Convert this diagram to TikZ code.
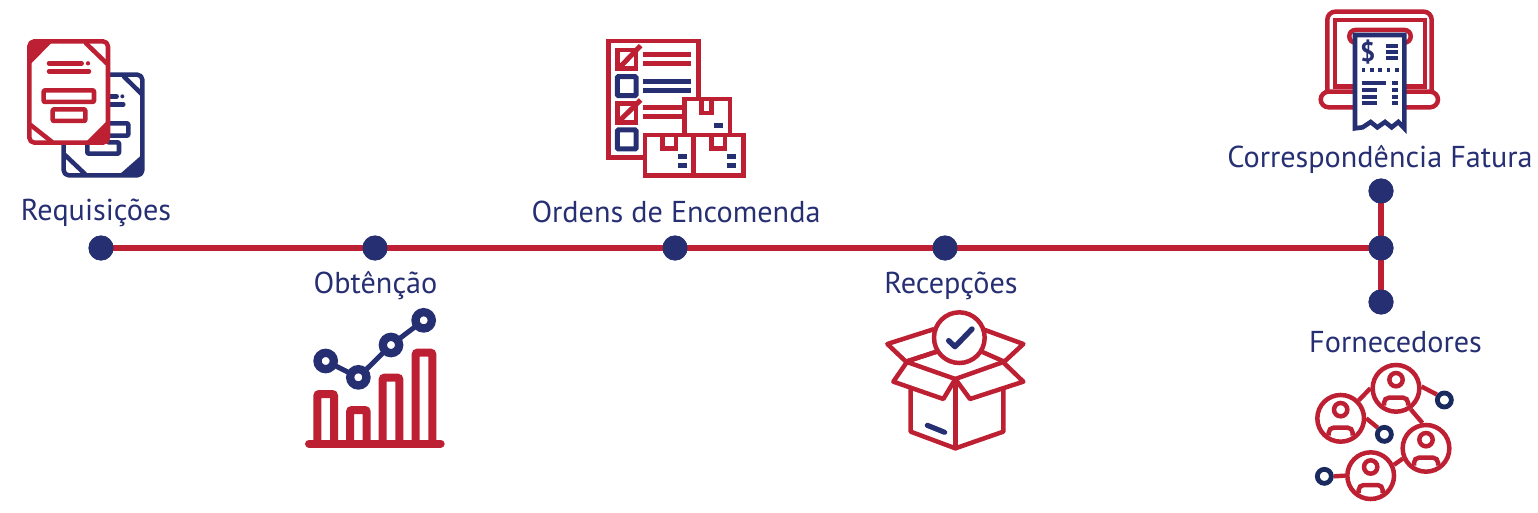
\documentclass[tikz,border=0pt]{standalone}
\usepackage{fontspec}
\setmainfont{PT Sans}
\definecolor{rd}{HTML}{BE2033}
\definecolor{nv}{HTML}{272F73}
\definecolor{nvd}{HTML}{1B2A5E}
\tikzset{
 dot/.style={circle,fill=nv,draw=none,minimum size=25pt,inner sep=0pt},
 spine/.style={draw=rd,line width=6.5pt,shorten <=-3pt,shorten >=-3pt},
 lab/.style={text=nv,font=\fontsize{30.2}{32}\selectfont,inner sep=0pt,anchor=center},
 rl/.style={draw=rd,line width=4.5pt,line join=round,line cap=round},
 bl/.style={draw=nv,line width=4.5pt,line join=round,line cap=round},
 rb/.style={draw=rd,line width=4.5pt,line join=miter},
 bb/.style={draw=nv,line width=5pt,line join=miter},
 icon/.style={x=0.33333pt,y=-0.33333pt},
 person/.style={circle,draw=rd,fill=white,line width=4.5pt,minimum size=46.7pt,inner sep=0pt},
 ring/.style={circle,draw=nvd,fill=white,line width=4.8pt,minimum size=14pt,inner sep=0pt},
 link/.style={draw=rd,line width=4.4pt},
}
\begin{document}
\begin{tikzpicture}[x=1pt,y=-1pt]
\useasboundingbox (0,0) rectangle (1538,513);
% timeline
\node[dot] (d1) at (101,248) {};
\node[dot] (d2) at (375,248) {};
\node[dot] (d3) at (675,248) {};
\node[dot] (d4) at (945,248) {};
\node[dot] (d5) at (1381,248) {};
\node[dot] (d6) at (1381,191) {};
\node[dot] (d7) at (1381,302) {};
\begin{scope}[on background layer/.style={}]
\draw[spine] (d1)--(d2);
\draw[spine] (d2)--(d3);
\draw[spine] (d3)--(d4);
\draw[spine] (d4)--(d5);
\draw[spine] (d6)--(d5);
\draw[spine] (d5)--(d7);
\end{scope}
% dots repainted over the spine ends
\foreach \n in {d1,d2,d3,d4,d5,d6,d7}{\fill[nv] (\n.center) circle (12.5pt);}
% labels
\node[lab] (l1) at (96,212.5) {Requisições};
\node[lab] (l2) at (375.5,285.5) {Obtênção};
\node[lab] (l3) at (676,211.5) {Ordens de Encomenda};
\node[lab] (l4) at (951,285.5) {Recepções};
\node[lab] (l5) at (1380,159.5) {Correspondência Fatura};
\node[lab] (l6) at (1395.5,342.5) {Fornecedores};
% icon 1
\begin{scope}[shift={(0,20)},icon]
 \draw[bl,fill=white,rounded corners=5pt] (191,164) rectangle (427,466);
 \fill[nv] (425,405)--(360,462)--(424,462)[rounded corners=2pt]--(429,468)--(429,405)--cycle;
 \draw[bl] (372,170)--(425,222);
 \draw[bl] (195,405)--(255,462);
 \draw[bl] (325,229)--(350,229);
 \fill[nv] (367,229) circle (6);
 \draw[bl] (325,253)--(370,253);
 \draw[bl,rounded corners=1pt] (325,310)--(385,310)--(385,347)--(325,347);
 \draw[bl,rounded corners=1pt] (262,375)--(262,401)--(357,401)--(357,367)--(325,367);
 \draw[rl,fill=white,rounded corners=5pt] (88,64) rectangle (324,368);
 \fill[rd] (84,72)--(84,132)--(94,130)--(155,68)--(96,60)--cycle;
 \fill[rd] (326,298)--(258,366)--(326,370)--cycle;
 \draw[rl] (258,70)--(320,130);
 \draw[rl] (92,315)--(155,365);
 \draw[rl] (147,130)--(245,130);
 \fill[rd] (264,130) circle (6.5);
 \draw[rl] (147,154)--(267,154);
 \draw[rl,rounded corners=1pt] (131,211) rectangle (282,246);
 \draw[rl,rounded corners=1pt] (158,268) rectangle (256,303);
\end{scope}
% icon 2
\begin{scope}[shift={(290,295)},icon]
 \draw[draw=rd,line width=8pt,line cap=round] (57,446)--(452,446);
 \foreach \a/\t in {82/297,180/345,278/248,377/173}{
  \draw[draw=rd,line width=8pt,rounded corners=2pt] (\a,446)--(\a,\t)--({\a+50},\t)--({\a+50},446);
 }
 \draw[draw=nv,line width=5pt] (107,198)--(205,247)--(303,150)--(401,76);
 \foreach \a/\b in {107/198,205/247,303/150,401/76}{
  \draw[draw=nv,fill=white,line width=8.3pt] (\a,\b) circle (24.5);
 }
\end{scope}
% icon 3
\begin{scope}[shift={(590,25)},icon]
 \draw[rb] (160,397)--(56,397)--(56,48)--(325,48)--(325,220);
 \draw[rb,fill=white] (283,325)--(283,222)--(420,222)--(420,325);
 \draw[rb] (335,222)--(335,264)--(365,264)--(365,222);
 \draw[rb,fill=white] (165,330) rectangle (311,452);
 \draw[rb,fill=white] (311,330) rectangle (460,452);
 \draw[rb] (217,330)--(217,370)--(258,370)--(258,330);
 \draw[rb] (365,330)--(365,370)--(405,370)--(405,330);
 \foreach \a/\b/\c in {372/398/302,265/291/396,265/291/423,412/438/396,412/438/423}{
  \draw[draw=nv,line width=5pt] (\a,\c)--(\b,\c);
 }
 \draw[rb] (82,75) rectangle (138,130);
 \draw[draw=rd,line width=5pt] (88,128)--(152,62);
 \draw[draw=rd,line width=5pt] (158,89)--(303,89) (158,115)--(303,115);
 \draw[bb,rounded corners=1pt] (82,155) rectangle (138,212);
 \draw[draw=nv,line width=5pt] (158,169)--(303,169) (158,196)--(303,196);
 \draw[rb] (82,235) rectangle (138,292);
 \draw[draw=rd,line width=5pt] (88,288)--(152,225);
 \draw[draw=rd,line width=5pt] (158,248)--(280,248) (158,274)--(280,274);
 \draw[bb,rounded corners=1pt] (82,315) rectangle (138,372);
\end{scope}
% icon 4
\begin{scope}[shift={(870,300)},icon]
 \draw[rl] (190,88)--(52,132)--(108,185)--(200,155);
 \draw[rl] (345,90)--(460,132)--(403,185)--(335,155);
 \draw[rl] (200,155)--(108,185)--(256,237)--(403,185);
 \draw[rl] (108,190)--(70,245)--(220,297)--(256,237)--(300,297)--(460,245)--(403,190);
 \draw[rl] (122,265)--(122,395)--(256,445)--(400,395)--(400,265);
 \draw[rl] (256,237)--(256,445);
 \draw[draw=nv,line width=5.2pt,line cap=round] (172,376)--(224,397);
 \draw[draw=rd,fill=white,line width=4.5pt] (268,113) circle (76);
 \draw[draw=nv,line width=5.4pt,line cap=round,line join=round] (236,122)--(255,140)--(306,87);
\end{scope}
% icon 5
\begin{scope}[shift={(1300,0)},icon]
 \draw[draw=rd,line width=4.5pt,rounded corners=8pt] (82,275)--(82,35)--(395,35)--(395,275);
 \draw[rb] (105,60) rectangle (375,260);
 \draw[draw=rd,fill=white,line width=4.5pt,rounded corners=8pt] (62,275)--(62,322)--(414,322)--(414,275)--cycle;
 \draw[draw=rd,fill=white,line width=4.5pt,rounded corners=6pt] (165,128)--(148,128)--(148,90)--(332,90)--(332,128)--(315,128);
 \draw[draw=nv,fill=white,line width=4.6pt,line join=miter] (165,105)--(313,105)--(313,385)--(295,366)--(275,382)--(255,366)--(232,382)--(212,366)--(188,382)--(165,385)--cycle;
 \node[inner sep=0pt,text=nv,font=\fontsize{27}{28}\selectfont\bfseries] (dollar) at (203,157) {\$};
 \foreach \c in {138,155,175}{\draw[draw=nv,line width=4pt] (258,\c)--(295,\c);}
 \foreach \a in {185,210,235,260,285}{\fill[nv] (\a,204) rectangle ({\a+11},216);}
 \draw[draw=nv,line width=4pt] (185,250)--(258,250) (185,270)--(232,270) (185,290)--(232,290) (185,310)--(232,310);
 \draw[draw=nv,line width=4pt] (276,250)--(295,250) (276,270)--(295,270) (276,290)--(295,290) (276,310)--(295,310);
\end{scope}
% icon 6
\begin{scope}[shift={(1300,355)},icon]
 \node[person] (p1) at (122,190) {};
 \node[person] (p2) at (288,100) {};
 \node[person] (p3) at (378,280) {};
 \node[person] (p4) at (212,362) {};
 \node[ring] (r1) at (433,135) {};
 \node[ring] (r2) at (253,238) {};
 \node[ring] (r3) at (73,364) {};
 \draw[link] (p1.45)--(p2.180);
 \draw[link] (p2.4)--(r1.144);
 \draw[link] (p1.0)--(r2.135);
 \draw[link] (p2.-55)--(p3.98);
 \draw[link] (p3.204)--(p4.25);
 \draw[link] (r3.0)--(p4.180);
 \foreach \a/\b in {122/190,288/100,378/280,212/362}{
  \draw[draw=rd,line width=4.5pt] (\a,\b-26) circle (20);
  \draw[draw=rd,line width=4.5pt,rounded corners=5pt] (\a-36,\b+52)--(\a-36,\b+28)--(\a+36,\b+28)--(\a+36,\b+52);
 }
\end{scope}
\end{tikzpicture}
\end{document}
